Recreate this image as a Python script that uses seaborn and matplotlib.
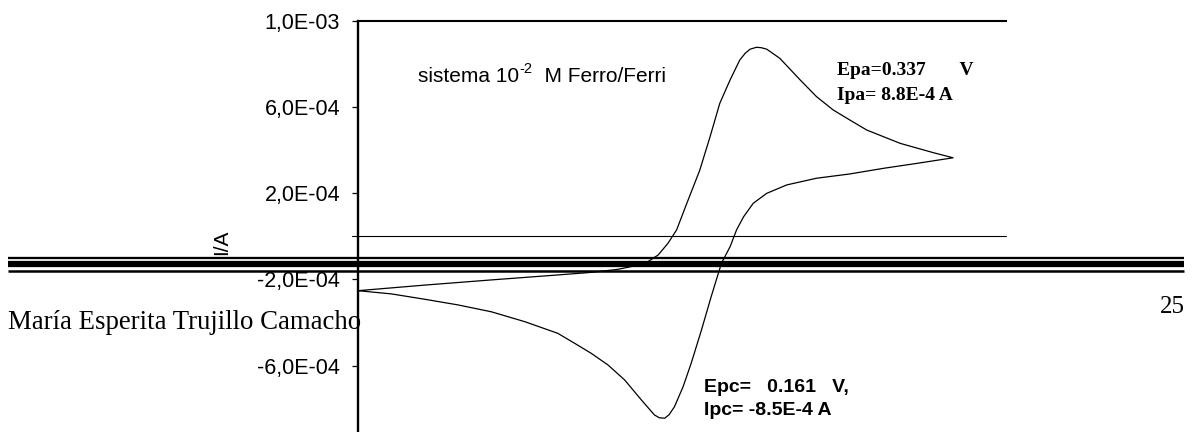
import numpy as np
import pandas as pd
import matplotlib
matplotlib.use("Agg")
import matplotlib.pyplot as plt
from matplotlib.lines import Line2D
from matplotlib.ticker import FuncFormatter
import seaborn as sns

# ---- data ----
# potential (V) along the cyclic scan: forward (anodic) then return (cathodic)
potential_V = [
    -0.400, -0.276, -0.153, -0.030, 0.032, 0.081, 0.112, 0.137, 0.156, 0.174,
    0.190, 0.209, 0.233, 0.252, 0.270, 0.289, 0.307, 0.317, 0.326, 0.338, 0.347, 0.357,
    0.381, 0.419, 0.449, 0.480, 0.511, 0.542, 0.604, 0.665, 0.702,
    0.635, 0.573, 0.511, 0.449, 0.394, 0.357, 0.332, 0.314, 0.301, 0.289,
    0.273, 0.254, 0.236, 0.217, 0.202, 0.186, 0.176, 0.168, 0.158, 0.149, 0.125, 0.094,
    0.063, 0.032, 0.001, -0.030, -0.091, -0.153, -0.215, -0.276, -0.338, -0.400,
]
# current in units of 1e-4 A
current_1e4A = [
    -2.52, -2.26, -2.02, -1.79, -1.67, -1.53, -1.37, -1.17, -0.86, -0.32,
    0.30, 1.54, 3.08, 4.63, 6.18, 7.26, 8.19, 8.50, 8.69, 8.78, 8.76, 8.69,
    8.27, 7.26, 6.49, 5.87, 5.40, 4.94, 4.32, 3.89, 3.65,
    3.39, 3.16, 2.90, 2.70, 2.39, 2.00, 1.54, 0.91, 0.30, -0.48,
    -1.25, -2.80, -4.35, -5.89, -6.98, -7.91, -8.28, -8.44, -8.42, -8.29, -7.60, -6.67,
    -5.97, -5.43, -4.96, -4.50, -3.96, -3.50, -3.18, -2.92, -2.67, -2.52,
]
y_ticks = [1.0e-3, 6.0e-4, 2.0e-4, -2.0e-4, -6.0e-4]
title_parts = ["sistema 10", "-2", "  M Ferro/Ferri"]
anodic_lines = ["Epa=0.337       V", "Ipa= 8.8E-4 A"]
cathodic_lines = ["Epc=   0.161   V,", "Ipc= -8.5E-4 A"]
footer_name = "María Esperita Trujillo Camacho"
page_number = "25"

df = pd.DataFrame({"E": potential_V,
                   "I": np.array(current_1e4A) * 1e-4})

# ---- style ----
sns.set_theme(style="white")
plt.rcParams["font.family"] = ["Liberation Sans", "DejaVu Sans"]
plt.rcParams["axes.unicode_minus"] = False

W, H = 1195, 432
fig = plt.figure(figsize=(W / 100, H / 100), dpi=100)
fig.patch.set_facecolor("white")

# axes in pixel geometry
ax_left, ax_right = 358, 1006
ax_top, ax_bottom = 21, 451.8
ax = fig.add_axes([ax_left / W, 1 - ax_bottom / H,
                   (ax_right - ax_left) / W, (ax_bottom - ax_top) / H])
ax.set_facecolor("white")

sns.lineplot(data=df, x="E", y="I", sort=False, estimator=None,
             color="black", linewidth=0.9, ax=ax)

ax.set_xlim(-0.4, 0.8)
ax.set_ylim(-1.0e-3, 1.0e-3)
ax.set_yticks(y_ticks)
ax.yaxis.set_major_formatter(FuncFormatter(lambda v, p: f"{v:.1E}".replace(".", ",")))
ax.set_xticks([])
ax.set_xlabel("")

ax.tick_params(axis="y", direction="out", length=4.3, width=0.9, color="black",
               pad=8.6, labelsize=15.5, labelcolor="black", left=True)

for side in ["right", "bottom"]:
    ax.spines[side].set_visible(False)
ax.spines["left"].set_linewidth(1.7)
ax.spines["left"].set_color("black")
ax.spines["top"].set_linewidth(1.5)
ax.spines["top"].set_color("black")

# zero line (extends like a tick to the left)
ax.axhline(0, xmin=-6 / (ax_right - ax_left), xmax=1.0, clip_on=False,
           color="black", linewidth=0.8)

ax.set_ylabel("I/A", fontsize=15, color="black", rotation=90,
              ha="center", va="center", rotation_mode="default")
ax.yaxis.set_label_coords(-0.2099, 0.487)

# annotation title with superscript built from chained texts
t1 = ax.text(0.0926, 0.859, title_parts[0], transform=ax.transAxes, fontsize=15,
             ha="left", va="baseline", color="black")
t2 = ax.annotate(title_parts[1], xy=(1, 0), xycoords=t1, xytext=(0.5, 9.5),
                 textcoords="offset points", fontsize=10.5, ha="left", va="baseline",
                 color="black")
t3 = ax.annotate(title_parts[2], xy=(1, 0), xycoords=(t2, t1), xytext=(0, 0),
                 textcoords="offset points", fontsize=15, ha="left", va="bottom",
                 color="black")

serif_bold = dict(family=["Liberation Serif", "DejaVu Serif"], weight="bold", fontsize=14)
ax.text(0.7387, 0.8747, anodic_lines[0], transform=ax.transAxes, ha="left",
        va="baseline", color="black", **serif_bold)
ax.text(0.7387, 0.8166, anodic_lines[1], transform=ax.transAxes, ha="left",
        va="baseline", color="black", **serif_bold)
ax.text(0.534, 0.1395, cathodic_lines[0], transform=ax.transAxes, ha="left",
        va="baseline", color="black", fontsize=14, weight="bold")
ax.text(0.534, 0.0854, cathodic_lines[1], transform=ax.transAxes, ha="left",
        va="baseline", color="black", fontsize=14, weight="bold")

# page overlay (document footer rules, name, page number)
x0, x1 = 8 / W, 1184 / W
for yc, lw in [(257.8, 1.65), (264.3, 4.5), (270.8, 1.8)]:
    fig.add_artist(Line2D([x0, x1], [1 - yc / H, 1 - yc / H], transform=fig.transFigure,
                          color="black", linewidth=lw, solid_capstyle="butt", zorder=10))
fig.text(8.3 / W, 1 - 329.3 / H, footer_name, ha="left", va="baseline",
         family=["Liberation Serif", "DejaVu Serif"], fontsize=19.3, color="black", zorder=10)
fig.text(1185 / W, 1 - 313.3 / H, page_number, ha="right", va="baseline",
         family=["Liberation Serif", "DejaVu Serif"], fontsize=18, color="black", zorder=10)

fig.savefig("out.png", dpi=100, facecolor="white")
